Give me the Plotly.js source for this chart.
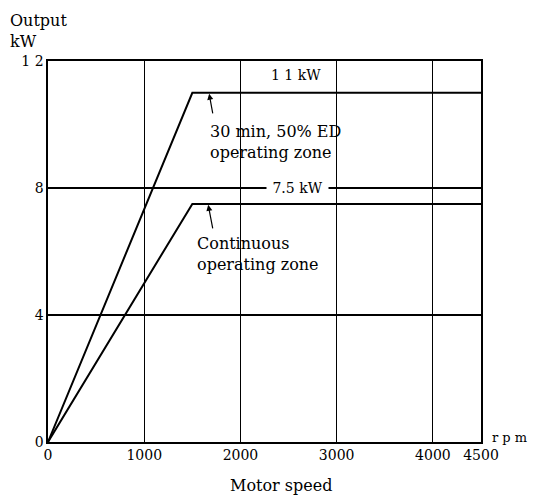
<!DOCTYPE html>
<html>
<head>
<meta charset="utf-8">
<script src="https://cdn.plot.ly/plotly-3.0.1.min.js"></script>
<style>html,body{margin:0;padding:0;background:#fff;}</style>
</head>
<body>
<div id="chart" style="width:538px;height:500px;"></div>
<script>
var rpm = [0, 1500, 4500];
var continuousKW = [0, 7.5, 7.5];
var shortTimeKW = [0, 11, 11];
var xTicks = [0, 1000, 2000, 3000, 4000, 4500];
var xTickLabels = ['0', '1000', '2000', '3000', '4000', '4500'];
var yTicks = [0, 4, 8, 12];
var yTickLabels = ['0', '4', '8', '1 2'];

var serif = 'DejaVu Serif, Liberation Serif, serif';

var traces = [
  {x: rpm, y: shortTimeKW, mode: 'lines', line: {color: '#000', width: 2}, hoverinfo: 'none'},
  {x: rpm, y: continuousKW, mode: 'lines', line: {color: '#000', width: 2}, hoverinfo: 'none'}
];

var layout = {
  width: 538, height: 500,
  margin: {l: 48, r: 57, t: 61, b: 58},
  paper_bgcolor: '#fff', plot_bgcolor: '#fff',
  showlegend: false,
  font: {family: serif, color: '#000', size: 14},
  xaxis: {
    range: [0, 4500], tickvals: xTicks, ticktext: xTickLabels,
    showgrid: true, gridcolor: '#000', gridwidth: 1.2,
    showline: true, linecolor: '#000', linewidth: 1.6, mirror: true,
    zeroline: false, ticks: '', tickfont: {family: serif, size: 14}
  },
  yaxis: {
    range: [0, 12], tickvals: yTicks, ticktext: yTickLabels,
    showgrid: true, gridcolor: '#000', gridwidth: 1.2,
    showline: true, linecolor: '#000', linewidth: 1.6, mirror: true,
    zeroline: false, ticks: '', tickfont: {family: serif, size: 14}
  },
  annotations: [
    {xref: 'paper', yref: 'paper', x: -0.092, y: 1.136, xanchor: 'left', yanchor: 'top',
     text: 'Output<br>kW', showarrow: false, align: 'left', font: {family: serif, size: 16}},
    {xref: 'paper', yref: 'paper', x: 1.02, y: 0.012, xanchor: 'left', yanchor: 'middle',
     text: 'r p m', showarrow: false, font: {family: serif, size: 13}},
    {xref: 'paper', yref: 'paper', x: 0.538, y: -0.115, xanchor: 'center', yanchor: 'middle',
     text: 'Motor speed', showarrow: false, font: {family: serif, size: 16}},
    {x: 2577, y: 11.55, text: '1 1 kW', showarrow: false, xanchor: 'center', yanchor: 'middle',
     font: {family: serif, size: 14}},
    {x: 2588, y: 8, text: '&nbsp;7.5 kW&nbsp;', showarrow: false, xanchor: 'center', yanchor: 'middle',
     bgcolor: '#fff', font: {family: serif, size: 14}},
    {x: 1663, y: 9.45, text: '30 min, 50% ED<br>operating zone', showarrow: false,
     xanchor: 'left', yanchor: 'middle', align: 'left', font: {family: serif, size: 16}},
    {x: 1528, y: 5.92, text: 'Continuous<br>operating zone', showarrow: false,
     xanchor: 'left', yanchor: 'middle', align: 'left', font: {family: serif, size: 16}},
    {x: 1673, y: 11, ax: 1715, ay: 10.3, axref: 'x', ayref: 'y', text: '', showarrow: true,
     arrowhead: 2, arrowsize: 1, arrowwidth: 1.2, arrowcolor: '#000', standoff: 1},
    {x: 1663, y: 7.5, ax: 1715, ay: 6.68, axref: 'x', ayref: 'y', text: '', showarrow: true,
     arrowhead: 2, arrowsize: 1, arrowwidth: 1.2, arrowcolor: '#000', standoff: 1}
  ]
};

Plotly.newPlot('chart', traces, layout, {displayModeBar: false, staticPlot: true});
</script>
</body>
</html>
